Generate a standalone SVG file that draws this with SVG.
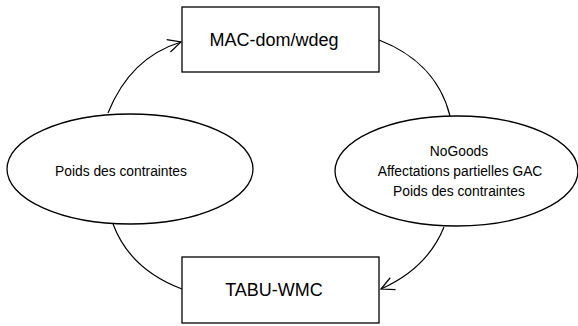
<svg xmlns="http://www.w3.org/2000/svg" width="578" height="326" viewBox="0 0 578 326">
<style>
.box{fill:#fff;stroke:#000;stroke-width:1.3}
.ell{fill:#fff;stroke:#000;stroke-width:1.3}
.big{font-family:"Liberation Sans",Arial,sans-serif;font-size:18px;text-anchor:middle;fill:#000}
.small{font-family:"Liberation Sans",Arial,sans-serif;font-size:13.8px;text-anchor:middle;fill:#000}
.edge{fill:none;stroke:#000;stroke-width:1.2}
</style>
<defs>
<marker id="arr" viewBox="-16 -8 18 16" refX="0" refY="0" markerWidth="18" markerHeight="16" markerUnits="userSpaceOnUse" orient="auto">
<path d="M-13,-6.5 L0,0 L-13,6.5" fill="none" stroke="#000" stroke-width="1.2"/>
</marker>
</defs>
<g id="connectors">
<path class="edge" d="M108,113 C122,78 145,53 181,42" marker-end="url(#arr)"/>
<path class="edge" d="M379,40 C410,52 440,75 450,116"/>
<path class="edge" d="M444,227 C432,257 410,276 381,289" marker-end="url(#arr)"/>
<path class="edge" d="M113,224 C125,256 150,277 182,289"/>
</g>
<g id="mac">
<rect class="box" x="182" y="7" width="197" height="65"/>
<text class="big" x="274" y="46">MAC-dom/wdeg</text>
</g>
<g id="tabu">
<rect class="box" x="182" y="257" width="197" height="66"/>
<text class="big" x="274" y="296">TABU-WMC</text>
</g>
<g id="poids">
<ellipse class="ell" cx="130" cy="169" rx="123" ry="55"/>
<text class="small" x="121" y="176">Poids des contraintes</text>
</g>
<g id="nogoods">
<ellipse class="ell" cx="456.5" cy="171" rx="121.5" ry="55"/>
<text class="small" x="459" y="156">NoGoods</text>
<text class="small" x="460" y="176">Affectations partielles GAC</text>
<text class="small" x="459" y="196">Poids des contraintes</text>
</g>
</svg>
